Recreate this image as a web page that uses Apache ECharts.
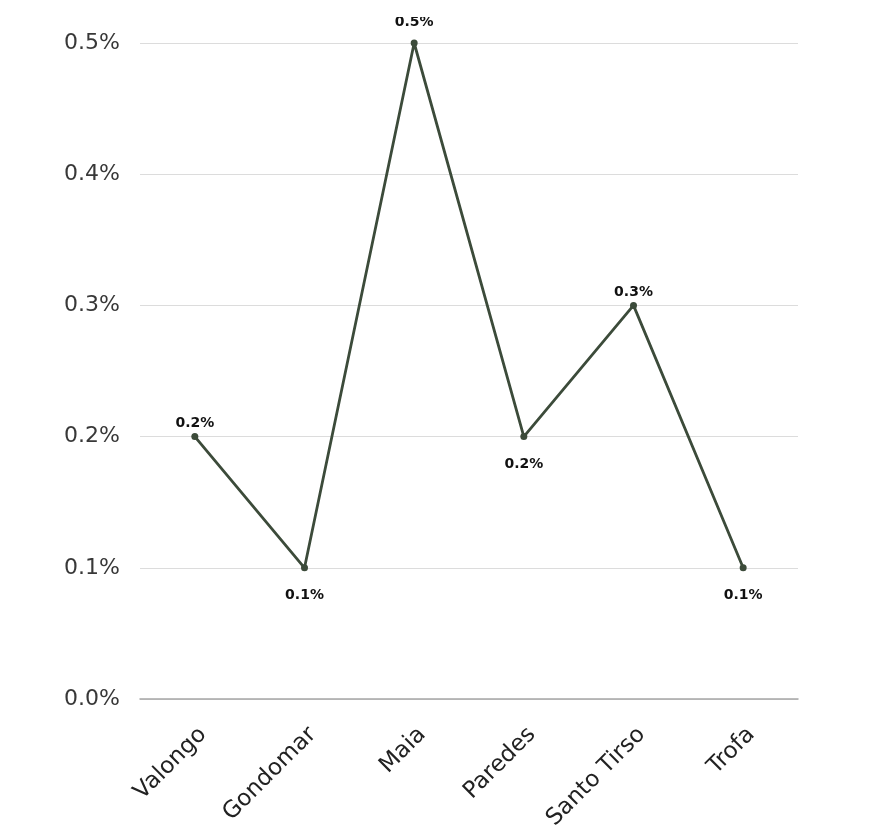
<!DOCTYPE html>
<html>
<head>
<meta charset="utf-8">
<script src="https://cdn.jsdelivr.net/npm/echarts@6/dist/echarts.min.js"></script>
<style>
html,body{margin:0;padding:0;background:#fff;width:892px;height:827px;overflow:hidden;}
#wrap{position:absolute;left:0;top:17px;width:892px;height:810px;overflow:hidden;}
#c{width:892px;height:810px;}
</style>
</head>
<body>
<div id="wrap"><div id="c"></div></div>
<script>
const categories = ['Valongo', 'Gondomar', 'Maia', 'Paredes', 'Santo Tirso', 'Trofa'];
const values = [0.2, 0.1, 0.5, 0.2, 0.3, 0.1];
const labelPositions = ['top', 'bottom', 'top', 'bottom', 'top', 'bottom'];
const labelDistances = [3, 17, 10, 17, 3, 17];
const yTicks = [0, 0.1, 0.2, 0.3, 0.4, 0.5];

const fontFam = '"DejaVu Sans", "Noto Sans", sans-serif';
const chart = echarts.init(document.getElementById('c'), null, {renderer: 'canvas'});
chart.setOption({
  animation: false,
  backgroundColor: '#fff',
  grid: {left: 140, right: 94, top: 26, bottom: 128, containLabel: false, outerBoundsMode: 'none'},
  xAxis: {
    type: 'category',
    data: categories,
    boundaryGap: true,
    axisLine: {show: true, lineStyle: {color: '#a6a6a6', width: 1.5}},
    axisTick: {show: false},
    axisLabel: {rotate: 45, margin: 24, verticalAlign: 'top', fontSize: 23, color: '#222', fontFamily: fontFam}
  },
  yAxis: {
    type: 'value',
    min: yTicks[0], max: yTicks[yTicks.length - 1], interval: 0.1,
    axisLine: {show: false},
    axisTick: {show: false},
    splitLine: {lineStyle: {color: '#dcdcdc', width: 1}},
    axisLabel: {margin: 20, fontSize: 22, color: '#383838', fontFamily: fontFam,
      formatter: v => v.toFixed(1) + '%'}
  },
  series: [{
    type: 'line',
    data: values.map((v, i) => ({
      value: v,
      label: {position: labelPositions[i], distance: labelDistances[i]}
    })),
    symbol: 'circle',
    symbolSize: 7,
    lineStyle: {color: '#3c4b3a', width: 2.8},
    itemStyle: {color: '#3c4b3a'},
    label: {show: true, fontSize: 14, fontWeight: 'bold', color: '#111', fontFamily: fontFam,
      formatter: p => p.value.toFixed(1) + '%'}
  }]
});
</script>
</body>
</html>
